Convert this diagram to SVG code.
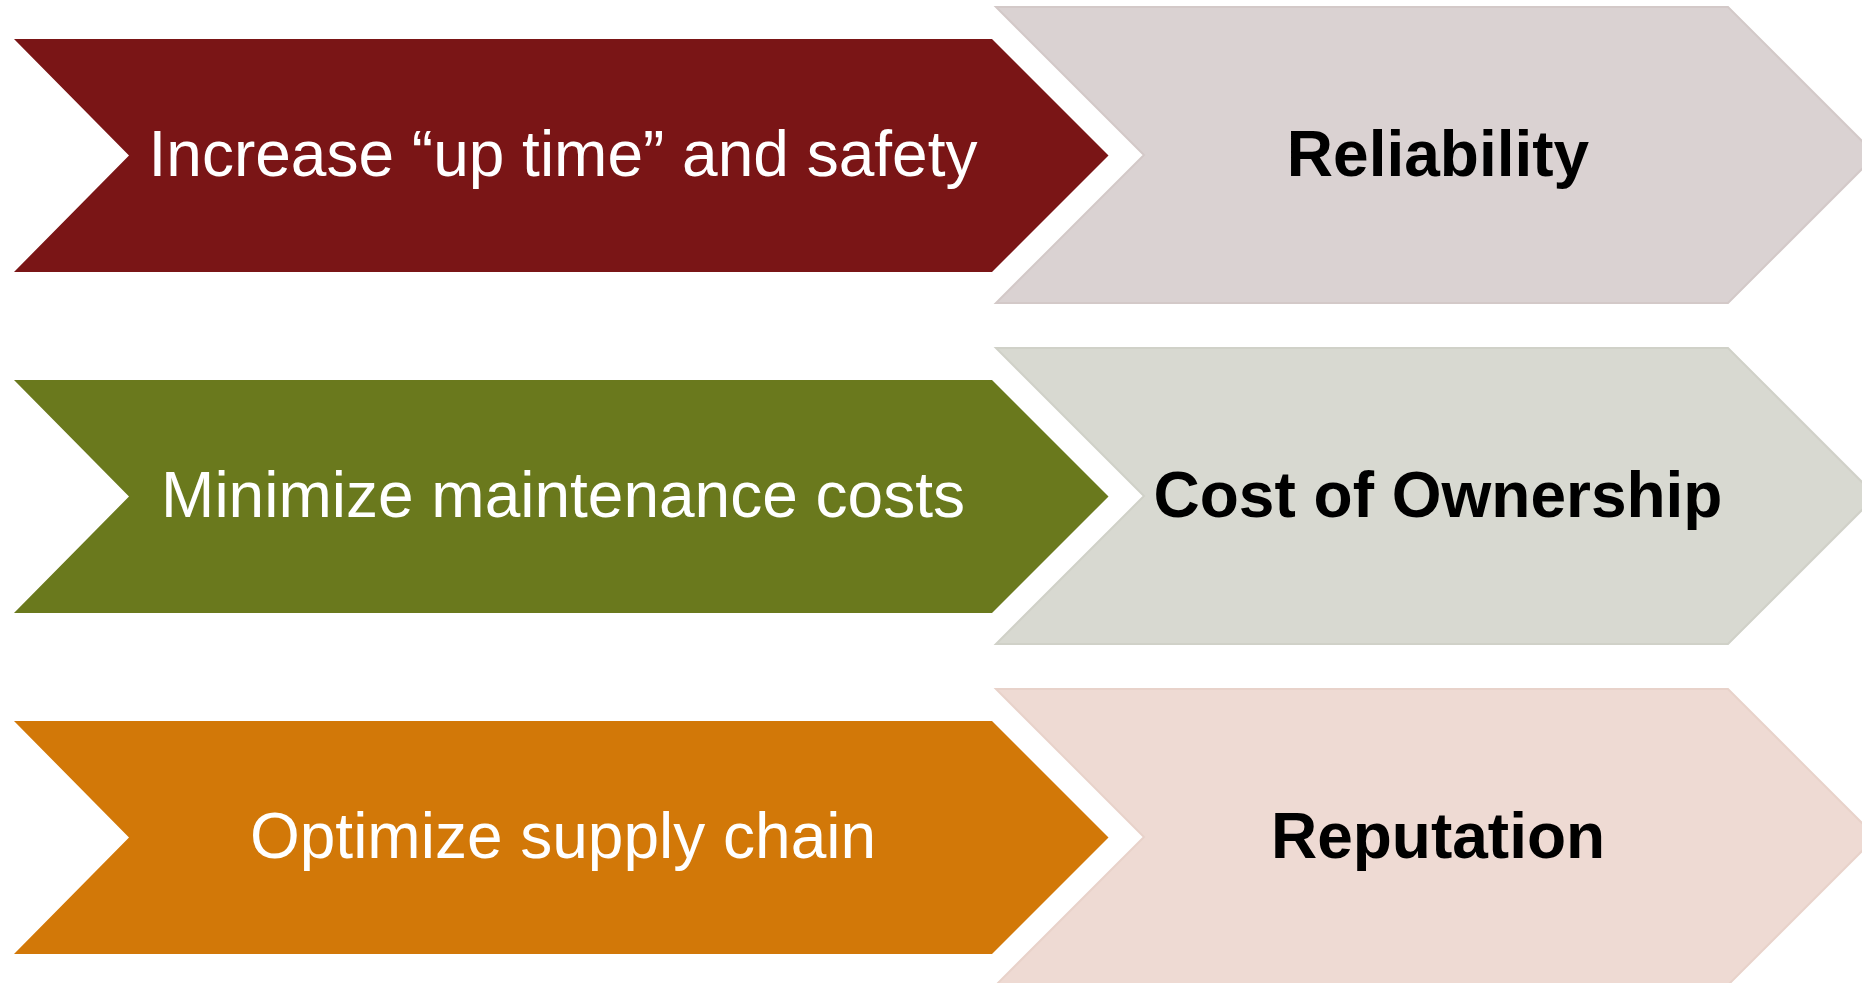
<svg xmlns="http://www.w3.org/2000/svg" width="1862" height="983" viewBox="0 0 1862 983">
  <style>
    .lt { font-family: "Liberation Sans", Arial, sans-serif; font-size: 64px; fill: #ffffff; text-anchor: middle; }
    .rt { font-family: "Liberation Sans", Arial, sans-serif; font-size: 64px; font-weight: bold; fill: #000000; text-anchor: middle; }
  </style>
  <defs>
    <path id="leftChev" d="M14,39 H992 L1108.5,155.5 L992,272 H14 L129,155.5 Z"/>
    <path id="rightChev" d="M996,7 H1728 L1876,155 L1728,303 H996 L1144,155 Z"/>
  </defs>
  <rect width="1862" height="983" fill="#ffffff"/>

  <g id="node-increase">
    <use href="#leftChev" fill="#7a1516"/>
    <text class="lt" x="563" y="176">Increase “up time” and safety</text>
  </g>
  <g id="node-reliability">
    <use href="#rightChev" fill="#dad2d2" stroke="#d3c9c8" stroke-width="2"/>
    <text class="rt" x="1438" y="176">Reliability</text>
  </g>

  <g id="node-minimize" transform="translate(0,341)">
    <use href="#leftChev" fill="#6a791d"/>
    <text class="lt" x="563" y="176">Minimize maintenance costs</text>
  </g>
  <g id="node-cost" transform="translate(0,341)">
    <use href="#rightChev" fill="#d8d9d1" stroke="#d0d1c8" stroke-width="2"/>
    <text class="rt" x="1438" y="176">Cost of Ownership</text>
  </g>

  <g id="node-optimize" transform="translate(0,682)">
    <use href="#leftChev" fill="#d27808"/>
    <text class="lt" x="563" y="176">Optimize supply chain</text>
  </g>
  <g id="node-reputation" transform="translate(0,682)">
    <use href="#rightChev" fill="#eedad3" stroke="#e8d2ca" stroke-width="2"/>
    <text class="rt" x="1438" y="176">Reputation</text>
  </g>

  <g id="connectors"></g>
</svg>
